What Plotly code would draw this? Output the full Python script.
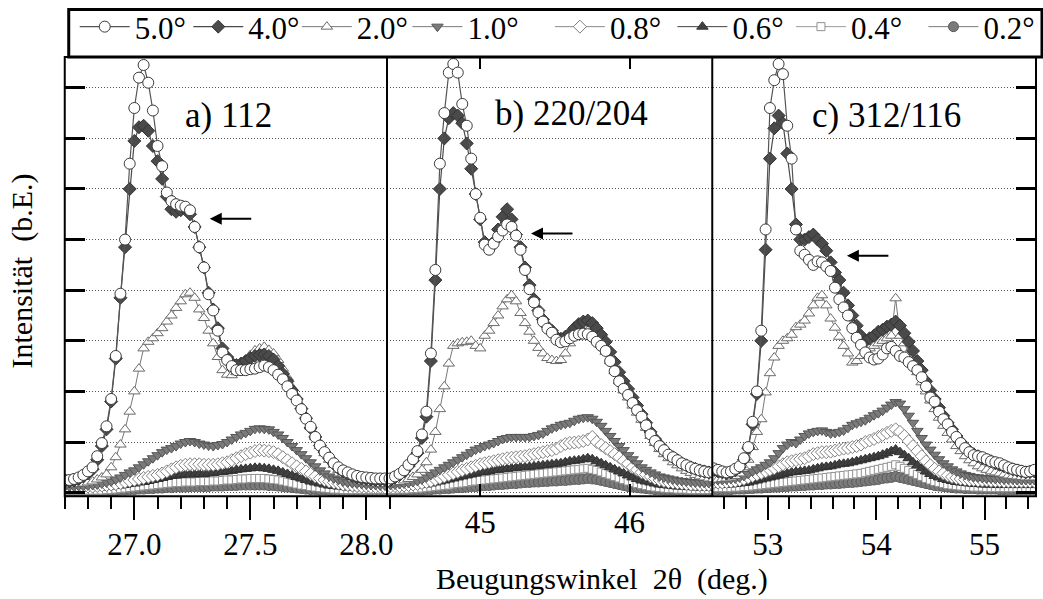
import numpy as np
import plotly.graph_objects as go

# ---------------- data ----------------
labels = ["5.0°", "4.0°", "2.0°", "1.0°", "0.8°", "0.6°", "0.4°", "0.2°"]

# measurement grids (2theta, deg.)
a_x = np.round(np.arange(26.70, 28.1001, 0.02), 2)
b_x = np.round(np.arange(44.37, 46.5601, 0.03), 2)
c_x = np.round(np.arange(52.50, 55.4601, 0.04), 2)

# panel a) 112
a_50 = [0.25,0.25,0.27,0.30,0.35,0.42,0.50,0.72,0.98,1.31,
        1.85,2.70,3.93,5.0,6.5,7.6,8.2,8.45,8.10,7.55,
        6.85,6.45,5.93,5.76,5.70,5.67,5.65,5.58,5.25,4.85,
        4.45,3.92,3.60,3.20,2.77,2.62,2.50,2.42,2.42,2.42,
        2.44,2.45,2.48,2.51,2.48,2.42,2.33,2.24,2.10,1.95,
        1.82,1.65,1.46,1.30,1.10,0.93,0.80,0.69,0.58,0.50,
        0.44,0.40,0.36,0.33,0.31,0.30,0.29,0.28,0.28,0.28,
        0.28]
a_40 = [0.22,0.22,0.24,0.27,0.32,0.38,0.46,0.65,0.92,1.25,
        1.80,2.65,3.85,4.85,6.0,6.95,7.22,7.25,7.15,6.85,
        6.55,6.2,5.85,5.6,5.55,5.58,5.6,5.5,5.25,4.85,
        4.45,3.95,3.62,3.25,2.85,2.68,2.56,2.52,2.55,2.6,
        2.66,2.7,2.72,2.73,2.7,2.63,2.5,2.35,2.2,2.02,
        1.85,1.66,1.47,1.28,1.1,0.93,0.8,0.68,0.57,0.48,
        0.42,0.37,0.33,0.3,0.28,0.27,0.26,0.25,0.25,0.25,
        0.25]
a_20 = [0.15,0.15,0.16,0.17,0.18,0.2,0.22,0.26,0.3,0.36,
        0.5,0.7,0.95,1.25,1.6,2.0,2.45,2.85,2.98,3.05,
        3.15,3.25,3.38,3.5,3.65,3.78,3.92,3.95,3.85,3.62,
        3.45,3.2,2.95,2.68,2.42,2.33,2.32,2.38,2.48,2.6,
        2.72,2.81,2.85,2.88,2.82,2.75,2.62,2.45,2.28,2.08,
        1.9,1.7,1.5,1.3,1.1,0.92,0.78,0.65,0.55,0.45,
        0.38,0.33,0.28,0.25,0.22,0.2,0.19,0.18,0.17,0.17,
        0.17]
a_10 = [0.12,0.12,0.12,0.13,0.13,0.14,0.15,0.16,0.18,0.2,
        0.22,0.26,0.3,0.35,0.4,0.44,0.5,0.56,0.62,0.68,
        0.74,0.8,0.85,0.88,0.92,0.97,1.0,1.02,1.0,0.97,
        0.95,0.93,0.92,0.94,0.96,1.0,1.05,1.1,1.15,1.18,
        1.22,1.26,1.27,1.26,1.25,1.2,1.15,1.08,1.0,0.92,
        0.84,0.76,0.68,0.6,0.52,0.44,0.38,0.32,0.28,0.25,
        0.22,0.2,0.19,0.18,0.17,0.16,0.15,0.15,0.14,0.14,
        0.14]
a_08 = [0.1,0.1,0.1,0.11,0.11,0.12,0.12,0.13,0.14,0.15,
        0.16,0.17,0.19,0.21,0.23,0.25,0.27,0.29,0.31,0.33,
        0.35,0.38,0.42,0.46,0.5,0.53,0.55,0.56,0.56,0.56,
        0.55,0.55,0.55,0.56,0.58,0.6,0.64,0.68,0.72,0.76,
        0.79,0.82,0.84,0.83,0.82,0.8,0.76,0.7,0.64,0.58,
        0.52,0.47,0.42,0.37,0.32,0.28,0.25,0.22,0.2,0.18,
        0.16,0.15,0.14,0.13,0.12,0.12,0.11,0.11,0.11,0.1,
        0.1]
a_06 = [0.08,0.08,0.08,0.08,0.09,0.09,0.09,0.1,0.1,0.11,
        0.12,0.13,0.14,0.15,0.17,0.18,0.2,0.21,0.23,0.25,
        0.27,0.29,0.31,0.33,0.34,0.35,0.36,0.36,0.36,0.37,
        0.37,0.38,0.39,0.4,0.41,0.42,0.43,0.45,0.46,0.47,
        0.48,0.49,0.49,0.48,0.47,0.45,0.43,0.4,0.37,0.34,
        0.31,0.28,0.25,0.22,0.2,0.18,0.16,0.14,0.13,0.12,
        0.11,0.1,0.1,0.09,0.09,0.09,0.08,0.08,0.08,0.08,
        0.08]
a_04 = [0.05,0.05,0.05,0.05,0.05,0.05,0.05,0.05,0.05,0.06,
        0.06,0.07,0.08,0.09,0.1,0.11,0.12,0.13,0.14,0.15,
        0.16,0.17,0.18,0.19,0.2,0.2,0.21,0.21,0.21,0.22,
        0.22,0.22,0.23,0.23,0.24,0.25,0.25,0.26,0.27,0.27,
        0.28,0.28,0.28,0.28,0.27,0.26,0.25,0.23,0.21,0.19,
        0.17,0.15,0.14,0.12,0.11,0.1,0.09,0.08,0.07,0.07,
        0.06,0.06,0.06,0.06,0.06,0.06,0.06,0.06,0.06,0.06,
        0.06]
a_02 = [0.03,0.03,0.03,0.03,0.03,0.03,0.03,0.03,0.03,0.03,
        0.04,0.04,0.05,0.05,0.06,0.06,0.07,0.07,0.08,0.08,
        0.09,0.09,0.1,0.1,0.11,0.11,0.11,0.12,0.12,0.12,
        0.12,0.12,0.13,0.13,0.13,0.14,0.14,0.14,0.15,0.15,
        0.15,0.15,0.15,0.15,0.14,0.14,0.13,0.12,0.11,0.1,
        0.09,0.08,0.07,0.06,0.06,0.05,0.05,0.04,0.04,0.03,
        0.03,0.03,0.03,0.03,0.03,0.03,0.03,0.03,0.03,0.03,
        0.03]

# panel b) 220/204
b_50 = [0.22,0.28,0.32,0.37,0.44,0.55,0.66,0.82,1.15,1.6,
        2.75,4.4,6.5,7.5,8.3,8.47,8.3,7.68,7.25,6.6,
        5.9,5.43,4.9,4.8,4.92,5.06,5.18,5.3,5.25,5.08,
        4.8,4.4,4.02,3.76,3.56,3.38,3.24,3.16,3.02,2.97,
        2.99,3.05,3.1,3.13,3.14,3.13,3.08,2.98,2.9,2.8,
        2.6,2.4,2.2,2.05,1.93,1.77,1.63,1.5,1.33,1.15,
        1.02,0.92,0.84,0.75,0.7,0.64,0.58,0.54,0.5,0.47,
        0.44,0.42,0.4,0.4]
b_40 = [0.2,0.25,0.3,0.35,0.42,0.52,0.63,0.78,1.08,1.5,
        2.6,4.2,6.0,7.0,7.4,7.5,7.45,7.3,6.9,6.4,
        5.9,5.4,4.95,4.82,4.95,5.2,5.45,5.6,5.4,5.1,
        4.85,4.45,4.1,3.82,3.6,3.42,3.28,3.2,3.08,3.04,
        3.08,3.15,3.25,3.33,3.38,3.4,3.35,3.25,3.12,2.98,
        2.78,2.58,2.38,2.2,2.05,1.88,1.72,1.55,1.38,1.2,
        1.06,0.95,0.85,0.76,0.7,0.64,0.58,0.54,0.5,0.47,
        0.44,0.42,0.4,0.4]
b_20 = [0.15,0.17,0.19,0.21,0.24,0.27,0.31,0.36,0.45,0.6,
        0.85,1.2,1.65,2.1,2.55,2.9,2.95,2.97,2.98,3.0,
        2.9,2.85,3.1,3.2,3.35,3.5,3.68,3.82,3.9,3.78,
        3.55,3.35,3.18,3.0,2.86,2.75,2.66,2.62,2.6,2.62,
        2.75,2.95,3.08,3.15,3.2,3.2,3.15,3.05,2.92,2.78,
        2.6,2.4,2.2,2.02,1.88,1.72,1.58,1.44,1.28,1.12,
        0.98,0.86,0.76,0.68,0.6,0.54,0.48,0.43,0.39,0.35,
        0.32,0.3,0.28,0.27]
b_10 = [0.15,0.15,0.16,0.17,0.18,0.19,0.21,0.23,0.26,0.3,
        0.35,0.4,0.45,0.5,0.55,0.6,0.65,0.7,0.75,0.8,
        0.85,0.88,0.92,0.95,0.98,1.02,1.06,1.08,1.1,1.1,
        1.1,1.1,1.1,1.12,1.14,1.17,1.22,1.27,1.3,1.34,
        1.36,1.38,1.42,1.46,1.48,1.49,1.46,1.4,1.32,1.22,
        1.12,1.02,0.92,0.84,0.74,0.66,0.58,0.5,0.45,0.4,
        0.36,0.32,0.3,0.28,0.26,0.24,0.23,0.22,0.21,0.2,
        0.2,0.19,0.19,0.19]
b_08 = [0.12,0.12,0.13,0.13,0.14,0.15,0.16,0.17,0.19,0.21,
        0.23,0.26,0.29,0.32,0.35,0.38,0.41,0.44,0.47,0.5,
        0.53,0.56,0.58,0.6,0.62,0.64,0.66,0.68,0.69,0.7,
        0.71,0.72,0.74,0.76,0.78,0.8,0.82,0.84,0.87,0.92,
        0.96,0.98,0.99,1.0,1.02,1.05,1.1,1.0,0.94,0.88,
        0.82,0.76,0.7,0.63,0.57,0.5,0.45,0.4,0.36,0.32,
        0.28,0.25,0.23,0.21,0.2,0.19,0.18,0.17,0.16,0.16,
        0.15,0.15,0.15,0.15]
b_06 = [0.1,0.1,0.11,0.11,0.12,0.12,0.13,0.14,0.15,0.16,
        0.18,0.2,0.22,0.24,0.26,0.28,0.3,0.32,0.34,0.36,
        0.38,0.4,0.41,0.42,0.44,0.45,0.46,0.47,0.48,0.49,
        0.5,0.5,0.51,0.52,0.53,0.54,0.55,0.56,0.57,0.58,
        0.6,0.62,0.63,0.64,0.66,0.68,0.66,0.62,0.58,0.54,
        0.5,0.46,0.42,0.38,0.34,0.3,0.27,0.24,0.22,0.2,
        0.18,0.16,0.15,0.14,0.13,0.12,0.12,0.11,0.11,0.1,
        0.1,0.1,0.1,0.1]
b_04 = [0.06,0.06,0.06,0.07,0.07,0.07,0.08,0.08,0.09,0.1,
        0.11,0.12,0.13,0.14,0.15,0.17,0.18,0.19,0.2,0.22,
        0.23,0.24,0.25,0.26,0.27,0.28,0.29,0.3,0.31,0.32,
        0.33,0.34,0.35,0.36,0.37,0.38,0.39,0.4,0.41,0.42,
        0.43,0.44,0.45,0.46,0.47,0.48,0.46,0.44,0.41,0.38,
        0.35,0.32,0.29,0.26,0.23,0.2,0.18,0.16,0.14,0.12,
        0.11,0.1,0.09,0.08,0.08,0.07,0.07,0.07,0.06,0.06,
        0.06,0.06,0.06,0.06]
b_02 = [0.04,0.04,0.04,0.04,0.04,0.05,0.05,0.05,0.05,0.06,
        0.06,0.07,0.07,0.08,0.08,0.09,0.1,0.1,0.11,0.12,
        0.12,0.13,0.14,0.14,0.15,0.16,0.16,0.17,0.18,0.18,
        0.19,0.2,0.2,0.21,0.21,0.22,0.22,0.23,0.23,0.24,
        0.24,0.25,0.26,0.26,0.27,0.28,0.27,0.26,0.24,0.22,
        0.2,0.18,0.16,0.14,0.12,0.11,0.1,0.09,0.08,0.07,
        0.06,0.06,0.05,0.05,0.05,0.04,0.04,0.04,0.04,0.04,
        0.04,0.04,0.04,0.04]

# panel c) 312/116
c_50 = [0.48,0.45,0.42,0.4,0.42,0.47,0.52,0.68,0.9,1.4,
        2.0,3.2,5.2,7.6,8.15,8.47,8.27,7.25,6.6,5.2,
        4.78,4.7,4.6,4.5,4.57,4.55,4.47,4.38,4.05,3.82,
        3.66,3.5,3.25,3.06,2.92,2.77,2.67,2.63,2.65,2.73,
        2.85,2.88,2.8,2.7,2.67,2.58,2.5,2.42,2.28,2.1,
        1.88,1.8,1.6,1.45,1.35,1.2,1.1,0.98,0.88,0.8,
        0.74,0.72,0.7,0.66,0.62,0.6,0.58,0.54,0.5,0.47,
        0.45,0.43,0.41,0.42,0.45]
c_40 = [0.45,0.42,0.4,0.38,0.4,0.44,0.5,0.65,0.88,1.35,
        1.95,3.0,4.8,6.6,7.2,7.45,7.3,6.7,6.0,5.3,
        5.0,5.0,5.05,5.1,5.0,4.92,4.78,4.55,4.35,4.2,
        3.95,3.7,3.5,3.3,3.1,3.0,3.05,3.1,3.18,3.22,
        3.28,3.32,3.38,3.3,3.15,2.98,2.8,2.6,2.42,2.2,
        2.02,1.85,1.68,1.52,1.38,1.25,1.12,1.0,0.9,0.82,
        0.76,0.72,0.68,0.65,0.62,0.58,0.55,0.52,0.49,0.46,
        0.44,0.42,0.4,0.41,0.42]
c_20 = [0.25,0.26,0.27,0.28,0.3,0.33,0.38,0.5,0.65,0.9,
        1.2,1.45,1.98,2.36,2.67,2.9,3.0,3.05,3.12,3.27,
        3.32,3.4,3.54,3.7,3.85,3.9,3.7,3.44,3.26,3.08,
        2.9,2.75,2.57,2.6,2.7,2.8,2.85,2.9,2.95,3.0,
        3.05,3.1,3.84,3.1,2.95,2.78,2.58,2.38,2.18,2.0,
        1.82,1.65,1.48,1.32,1.18,1.05,0.92,0.82,0.72,0.64,
        0.58,0.52,0.48,0.45,0.42,0.4,0.38,0.36,0.34,0.33,
        0.32,0.31,0.3,0.3,0.3]
c_10 = [0.25,0.25,0.25,0.26,0.27,0.28,0.3,0.33,0.37,0.42,
        0.46,0.5,0.55,0.6,0.68,0.78,0.88,0.95,1.0,0.98,
        1.05,1.12,1.17,1.2,1.22,1.23,1.2,1.17,1.18,1.2,
        1.23,1.28,1.34,1.37,1.4,1.43,1.48,1.53,1.57,1.62,
        1.68,1.74,1.79,1.76,1.65,1.52,1.38,1.22,1.08,0.95,
        0.85,0.75,0.66,0.58,0.52,0.46,0.42,0.38,0.35,0.33,
        0.31,0.3,0.29,0.28,0.28,0.27,0.27,0.26,0.26,0.26,
        0.25,0.25,0.25,0.25,0.25]
c_08 = [0.2,0.2,0.2,0.21,0.22,0.23,0.25,0.27,0.3,0.33,
        0.36,0.39,0.42,0.45,0.48,0.52,0.56,0.6,0.62,0.64,
        0.66,0.68,0.72,0.76,0.78,0.8,0.8,0.81,0.83,0.85,
        0.87,0.88,0.9,0.92,0.95,1.0,1.03,1.06,1.1,1.14,
        1.18,1.22,1.25,1.2,1.12,1.02,0.92,0.82,0.72,0.62,
        0.54,0.47,0.42,0.38,0.34,0.31,0.29,0.27,0.26,0.25,
        0.25,0.24,0.24,0.24,0.23,0.23,0.23,0.22,0.22,0.22,
        0.22,0.22,0.22,0.22,0.22]
c_06 = [0.15,0.15,0.15,0.16,0.16,0.17,0.18,0.19,0.2,0.22,
        0.24,0.26,0.28,0.3,0.32,0.34,0.36,0.38,0.4,0.41,
        0.42,0.43,0.44,0.46,0.48,0.5,0.51,0.52,0.54,0.56,
        0.57,0.58,0.6,0.62,0.64,0.66,0.68,0.7,0.72,0.75,
        0.78,0.82,0.85,0.8,0.74,0.68,0.6,0.54,0.48,0.42,
        0.37,0.33,0.3,0.27,0.25,0.23,0.21,0.2,0.19,0.18,
        0.17,0.17,0.16,0.16,0.16,0.15,0.15,0.15,0.15,0.15,
        0.15,0.15,0.15,0.15,0.15]
c_04 = [0.1,0.1,0.1,0.1,0.1,0.11,0.11,0.12,0.12,0.13,
        0.14,0.15,0.16,0.17,0.18,0.19,0.2,0.21,0.22,0.23,
        0.24,0.25,0.26,0.27,0.28,0.29,0.3,0.31,0.32,0.33,
        0.34,0.35,0.36,0.37,0.38,0.4,0.42,0.44,0.46,0.48,
        0.5,0.52,0.55,0.52,0.48,0.44,0.4,0.36,0.32,0.28,
        0.25,0.22,0.2,0.18,0.16,0.15,0.14,0.13,0.12,0.12,
        0.11,0.11,0.11,0.1,0.1,0.1,0.1,0.1,0.1,0.1,
        0.1,0.1,0.1,0.1,0.1]
c_02 = [0.06,0.06,0.06,0.06,0.06,0.07,0.07,0.07,0.08,0.08,
        0.09,0.09,0.1,0.1,0.11,0.11,0.12,0.12,0.13,0.13,
        0.14,0.14,0.15,0.15,0.16,0.16,0.17,0.17,0.18,0.18,
        0.19,0.2,0.2,0.21,0.22,0.23,0.24,0.25,0.26,0.28,
        0.29,0.3,0.32,0.3,0.28,0.26,0.24,0.22,0.2,0.18,
        0.16,0.14,0.13,0.12,0.11,0.1,0.09,0.09,0.08,0.08,
        0.08,0.07,0.07,0.07,0.07,0.07,0.06,0.06,0.06,0.06,
        0.06,0.06,0.06,0.06,0.06]

panel_titles = ["a) 112", "b) 220/204", "c) 312/116"]
NB = "\u00a0"
x_title = "Beugungswinkel" + NB * 2 + "2θ" + NB * 2 + "(deg.)"
y_title = "Intensität" + NB * 2 + "(b.E.)"

panels = [
    (a_x, [a_50, a_40, a_20, a_10, a_08, a_06, a_04, a_02]),
    (b_x, [b_50, b_40, b_20, b_10, b_08, b_06, b_04, b_02]),
    (c_x, [c_50, c_40, c_20, c_10, c_08, c_06, c_04, c_02]),
]
for px, ser in panels:
    for s in ser:
        assert len(s) == len(px), (len(s), len(px))

# ---------------- styles ----------------
styles = [
    dict(symbol="circle", size=11, color="white", lc="#3a3a3a", line="#555555", lw=1.2),
    dict(symbol="diamond", size=10, color="#4a4a4a", lc="#333333", line="#4a4a4a", lw=1.2),
    dict(symbol="triangle-up", size=10, color="white", lc="#6a6a6a", line="#777777", lw=1.0),
    dict(symbol="triangle-down", size=10, color="#7a7a7a", lc="#555555", line="#7a7a7a", lw=1.0),
    dict(symbol="diamond", size=10, color="white", lc="#808080", line="#8a8a8a", lw=1.0),
    dict(symbol="triangle-up", size=10, color="#404040", lc="#303030", line="#404040", lw=1.0),
    dict(symbol="square", size=8, color="white", lc="#909090", line="#9a9a9a", lw=1.0),
    dict(symbol="circle", size=10, color="#7a7a7a", lc="#5a5a5a", line="#7a7a7a", lw=1.0),
]
# left edge (px) of each legend entry
legend_left = [75, 189, 298, 409, 552, 675, 794, 927]

W, H = 1043, 599
def px2x(p):
    return p / W
def px2y(p):
    return 1 - p / H

FONT = "Liberation Serif, Times New Roman, serif"
FS = 31
fig = go.Figure()

legend_ids = ["legend"] + ["legend%d" % k for k in range(2, 9)]
axes = [("x", "y"), ("x2", "y2"), ("x3", "y3")]
for i in reversed(range(len(labels))):
    st = styles[i]
    for p, (xs, ser) in enumerate(panels):
        fig.add_trace(go.Scatter(
            x=xs, y=ser[i], mode="lines+markers", name=labels[i],
            legend=legend_ids[i], showlegend=(p == 0),
            xaxis=axes[p][0], yaxis=axes[p][1],
            line=dict(color=st["line"], width=st["lw"]),
            marker=dict(symbol=st["symbol"], size=st["size"], color=st["color"],
                        line=dict(color=st["lc"], width=1)),
            hoverinfo="skip",
        ))

y_top, y_bot = 56, 496
ydom = [px2y(y_bot), px2y(y_top)]
yrange = [-0.07, 8.61]
ycommon = dict(range=yrange, domain=ydom, tickvals=list(range(9)), showticklabels=False,
               showgrid=True, gridcolor="#555555", griddash="1px,2px", gridwidth=1,
               zeroline=False, showline=False, fixedrange=True)

tickfont = dict(family=FONT, size=FS, color="black")

legends = {}
for k, lid in enumerate(legend_ids):
    legends[lid] = dict(orientation="h", x=px2x(legend_left[k]), y=px2y(26),
                        xanchor="left", yanchor="middle", bgcolor="rgba(0,0,0,0)",
                        borderwidth=0, itemwidth=50,
                        font=dict(family=FONT, size=FS, color="black"))

fig.update_layout(
    width=W, height=H, margin=dict(l=0, r=0, t=0, b=0),
    paper_bgcolor="white", plot_bgcolor="white",
    font=dict(family=FONT, size=FS, color="black"),
    showlegend=True,
    xaxis=dict(domain=[px2x(65), px2x(391)], range=[26.70, 28.10], anchor="y",
               tick0=27.0, dtick=0.5, tickformat=".1f", ticks="outside", ticklen=23,
               tickwidth=2, tickcolor="black", tickfont=tickfont, showgrid=False,
               zeroline=False, showline=False, ticklabelstandoff=-2,
               minor=dict(dtick=0.1, tick0=26.7, ticks="outside", ticklen=12, tickwidth=2,
                          tickcolor="black", showgrid=False)),
    xaxis2=dict(domain=[px2x(388), px2x(716)], range=[44.373, 46.56], anchor="y2",
                tickvals=[45, 46], ticktext=["45", "46"], ticks="inside", ticklen=12,
                mirror="ticks", showline=False,
                tickwidth=2, tickcolor="black", tickfont=tickfont, showgrid=False,
                zeroline=False, ticklabelstandoff=5),
    xaxis3=dict(domain=[px2x(716), px2x(1040)], range=[52.497, 55.475], anchor="y3",
                tick0=53, dtick=1, ticks="outside", ticklen=23, tickwidth=2,
                tickcolor="black", tickfont=tickfont, showgrid=False, zeroline=False,
                showline=False, ticklabelstandoff=-2,
                minor=dict(dtick=0.2, tick0=53, ticks="outside", ticklen=12, tickwidth=2,
                           tickcolor="black", showgrid=False)),
    yaxis=dict(anchor="x", side="left", ticks="inside", ticklen=20, tickwidth=3,
               tickcolor="black", **ycommon),
    yaxis2=dict(anchor="x2", ticks="", **ycommon),
    yaxis3=dict(anchor="x3", side="right", ticks="inside", ticklen=20, tickwidth=3,
                tickcolor="black", **ycommon),
    **legends,
)

# frame, panel dividers, legend box
shapes = [
    dict(type="rect", xref="paper", yref="paper", x0=px2x(65), x1=px2x(1040),
         y0=px2y(y_bot), y1=px2y(y_top), line=dict(color="black", width=2)),
    dict(type="line", xref="paper", yref="paper", x0=px2x(388.5), x1=px2x(388.5),
         y0=px2y(y_bot), y1=px2y(y_top), line=dict(color="black", width=2)),
    dict(type="line", xref="paper", yref="paper", x0=px2x(715), x1=px2x(715),
         y0=px2y(y_bot), y1=px2y(y_top), line=dict(color="black", width=2)),
    dict(type="rect", xref="paper", yref="paper", x0=px2x(69), x1=px2x(1046),
         y0=px2y(y_top), y1=px2y(8.5), line=dict(color="black", width=3)),
]
fig.update_layout(shapes=shapes)

ann = []
# panel labels
for (xr, yr, xc, yc), t in zip([("x", "y", 27.407, 7.45), ("x2", "y2", 45.613, 7.49),
                                ("x3", "y3", 54.096, 7.45)], panel_titles):
    ann.append(dict(x=xc, y=yc, xref=xr, yref=yr, text=t, showarrow=False,
                    xanchor="center", yanchor="middle",
                    font=dict(family=FONT, size=35, color="black")))
# arrows
for xr, yr, xh, yh in [("x", "y", 27.325, 5.41), ("x2", "y2", 45.34, 5.12),
                       ("x3", "y3", 53.73, 4.68)]:
    ann.append(dict(x=xh, y=yh, xref=xr, yref=yr, text="", showarrow=True,
                    ax=43, ay=0, arrowhead=2, arrowsize=1.2, arrowwidth=2,
                    arrowcolor="black"))
# axis titles
ann.append(dict(x=px2x(604), y=px2y(579), xref="paper", yref="paper", text=x_title,
                showarrow=False, xanchor="center", yanchor="middle",
                font=dict(family=FONT, size=30, color="black")))
ann.append(dict(x=px2x(22), y=px2y(270), xref="paper", yref="paper", text=y_title,
                showarrow=False, xanchor="center", yanchor="middle", textangle=-90,
                font=dict(family=FONT, size=30, color="black")))
fig.update_layout(annotations=ann)

fig.write_html("out.html", config={"displayModeBar": False},
               post_script="document.body.style.margin='0px';")
